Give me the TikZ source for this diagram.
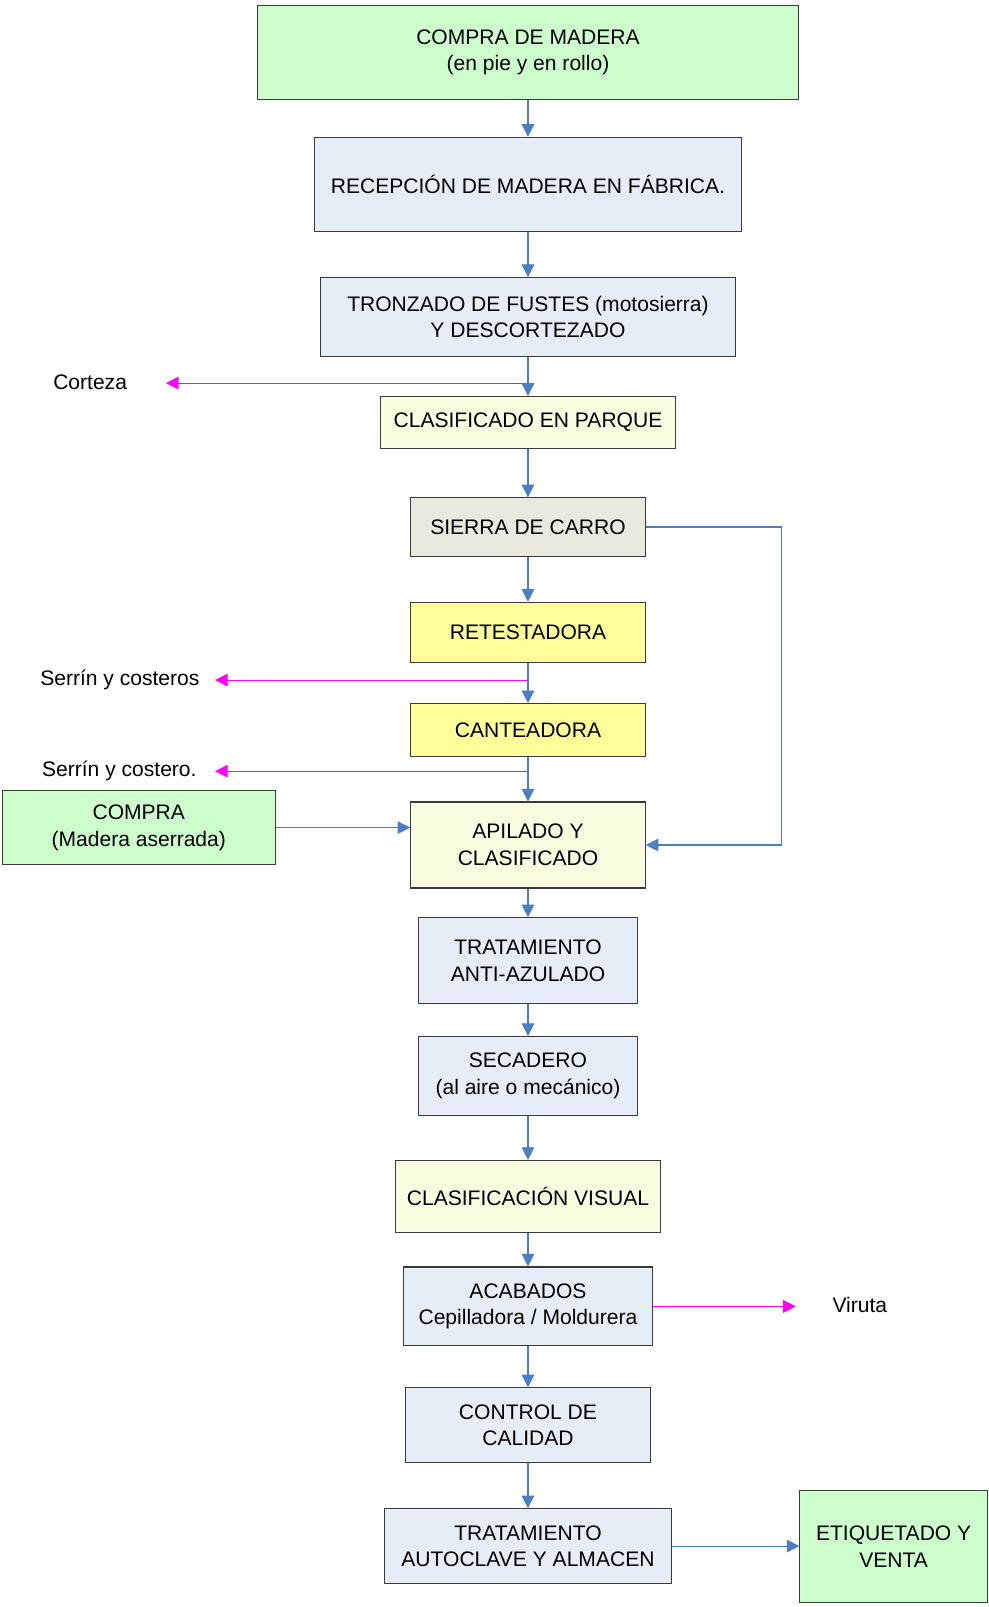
\documentclass[tikz,border=0pt]{standalone}
\usepackage{fontspec}
\setmainfont{Liberation Sans}
\usetikzlibrary{arrows.meta}
\definecolor{gfill}{HTML}{CCFFCC}
\definecolor{bfill}{HTML}{E6EDF7}
\definecolor{pyfill}{HTML}{FAFCE0}
\definecolor{sfill}{HTML}{E9EADD}
\definecolor{yfill}{HTML}{FFFF99}
\definecolor{bline}{HTML}{4A7EC5}
\definecolor{mline}{HTML}{FF00FF}
\definecolor{edge}{HTML}{3A3A3A}
\tikzset{
  box/.style={draw=edge, line width=0.6pt, inner sep=0pt, align=center,
    font=\fontsize{11.7}{14.8}\selectfont},
  lbl/.style={inner sep=0pt, font=\fontsize{11.7}{14.8}\selectfont},
  flow/.style={draw=bline, line width=0.6pt, -{Triangle[length=7pt,width=7pt]}},
  waste/.style={draw=mline, line width=0.6pt, -{Triangle[length=7pt,width=7pt]}}
}
\begin{document}
\begin{tikzpicture}[x=0.02cm, y=-0.02cm]
\useasboundingbox (0,0) rectangle (965,1569);
\node[box, fill=gfill, minimum width=10.58cm, minimum height=1.84cm] (c1) at (515.5,51) {COMPRA DE MADERA\\(en pie y en rollo)};
\node[box, fill=bfill, minimum width=8.34cm, minimum height=1.84cm] (c2) at (515.5,180) {RECEPCIÓN DE MADERA EN FÁBRICA.};
\node[box, fill=bfill, minimum width=8.10cm, minimum height=1.54cm] (c3) at (515.5,309.5) {TRONZADO DE FUSTES (motosierra)\\Y DESCORTEZADO};
\node[box, fill=pyfill, minimum width=5.76cm, minimum height=1.02cm] (c4) at (515.5,412.5) {CLASIFICADO EN PARQUE};
\node[box, fill=sfill, minimum width=4.58cm, minimum height=1.14cm] (c5) at (515.5,514.5) {SIERRA DE CARRO};
\node[box, fill=yfill, minimum width=4.58cm, minimum height=1.18cm] (c6) at (515.5,617.5) {RETESTADORA};
\node[box, fill=yfill, minimum width=4.58cm, minimum height=1.04cm] (c7) at (515.5,713) {CANTEADORA};
\node[box, fill=pyfill, minimum width=4.58cm, minimum height=1.68cm] (c8) at (515.5,825) {APILADO Y\\CLASIFICADO};
\node[box, fill=gfill, minimum width=5.34cm, minimum height=1.44cm] (c9) at (135.5,808) {COMPRA\\(Madera aserrada)};
\node[box, fill=bfill, minimum width=4.28cm, minimum height=1.68cm] (c10) at (515.5,938) {TRATAMIENTO\\ANTI-AZULADO};
\node[box, fill=bfill, minimum width=4.28cm, minimum height=1.54cm] (c11) at (515.5,1050.5) {SECADERO\\(al aire o mecánico)};
\node[box, fill=pyfill, minimum width=5.16cm, minimum height=1.40cm] (c12) at (515.5,1168) {CLASIFICACIÓN VISUAL};
\node[box, fill=bfill, minimum width=4.86cm, minimum height=1.54cm] (c13) at (515.5,1275.5) {ACABADOS\\Cepilladora / Moldurera};
\node[box, fill=bfill, minimum width=4.80cm, minimum height=1.46cm] (c14) at (515.5,1391.5) {CONTROL DE\\CALIDAD};
\node[box, fill=bfill, minimum width=5.60cm, minimum height=1.46cm] (c15) at (515.5,1509.5) {TRATAMIENTO\\AUTOCLAVE Y ALMACEN};
\node[box, fill=gfill, minimum width=3.66cm, minimum height=2.20cm] (c16) at (872.5,1510) {ETIQUETADO Y\\VENTA};

\node[lbl] (l1) at (88,373) {Corteza};
\node[lbl] (l2) at (117,664) {Serrín y costeros};
\node[lbl] (l3) at (116.5,753) {Serrín y costero.};
\node[lbl] (l4) at (839.5,1274) {Viruta};

\coordinate (k1) at (515.5,374);
\coordinate (k1e) at (162,374);
\coordinate (k2) at (515.5,664);
\coordinate (k2e) at (210,664);
\coordinate (k3) at (515.5,753);
\coordinate (k3e) at (210,753);
\coordinate (k4e) at (777,1275.5);
\coordinate (r1) at (763,514.5);
\coordinate (r2) at (763,825);

\draw[waste] (k1) -- (k1e);
\draw[waste] (k2) -- (k2e);
\draw[waste] (k3) -- (k3e);
\draw[waste] (c13.east) -- (k4e);

\draw[flow] (c1) -- (c2);
\draw[flow] (c2) -- (c3);
\draw[flow] (c3) -- (c4);
\draw[flow] (c4) -- (c5);
\draw[flow] (c5) -- (c6);
\draw[flow] (c6) -- (c7);
\draw[flow] (c7) -- (c8);
\draw[flow] (c8) -- (c10);
\draw[flow] (c10) -- (c11);
\draw[flow] (c11) -- (c12);
\draw[flow] (c12) -- (c13);
\draw[flow] (c13) -- (c14);
\draw[flow] (c14) -- (c15);
\draw[flow] (c5.east) -- (r1) -- (r2) -- (c8.east);
\draw[flow] (c9.east) -- (c8.west |- c9.east);
\draw[flow] (c15.east) -- (c16.west |- c15.east);
\end{tikzpicture}
\end{document}
